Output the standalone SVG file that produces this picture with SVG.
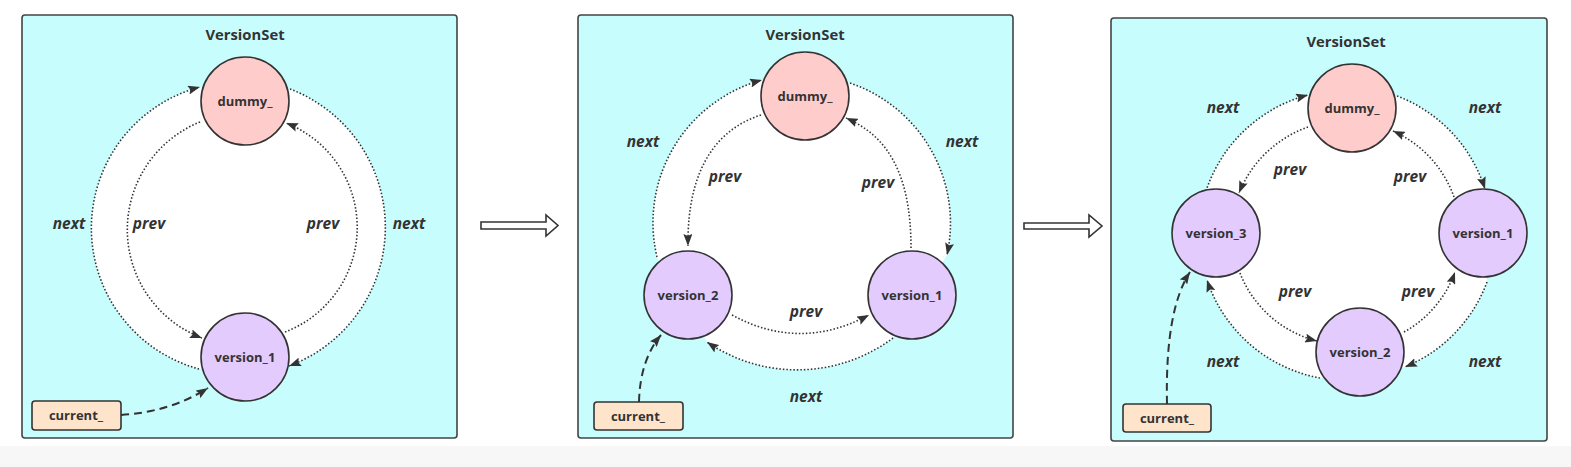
<svg xmlns="http://www.w3.org/2000/svg" width="1571" height="467" viewBox="0 0 1571 467">
<style>
.panel{fill:#c8fdfd;stroke:#444;stroke-width:1.6}
.hole{fill:#ffffff;stroke:none}
.dummy{fill:#ffcccc;stroke:#333;stroke-width:1.6}
.ver{fill:#e3cbfd;stroke:#333;stroke-width:1.6}
.cur{fill:#ffe4cc;stroke:#333;stroke-width:1.6}
.ntext{font-family:"Open Sans","Liberation Sans",sans-serif;font-weight:bold;font-size:13px;fill:#333;text-anchor:middle}
.title{font-family:"Open Sans","Liberation Sans",sans-serif;font-weight:bold;font-size:14.8px;fill:#333;text-anchor:middle}
.lbl{font-family:"Open Sans","Liberation Sans",sans-serif;font-weight:bold;font-style:italic;font-size:15.5px;fill:#333;text-anchor:middle}
.dot{fill:none;stroke:#333;stroke-width:1.6;stroke-dasharray:1.5 2;marker-end:url(#ah)}
.dash{fill:none;stroke:#333;stroke-width:2;stroke-dasharray:8 5;marker-end:url(#ah)}
.big{fill:#fff;stroke:#333;stroke-width:1.6}
</style>
<defs>
<marker id="ah" markerUnits="userSpaceOnUse" markerWidth="12" markerHeight="9" refX="12" refY="4.5" orient="auto">
<path d="M0,0 L12,4.5 L0,9 L2,4.5 Z" fill="#333"/>
</marker>
</defs>
<rect x="0" y="0" width="1571" height="467" fill="#ffffff"/>
<rect x="0" y="446" width="1571" height="21" fill="#f7f7f7"/>

<!-- Panel 1 -->
<g id="panel1">
<rect class="panel" x="22" y="15" width="435" height="423" rx="3"/>
<path class="hole" d="M199,369 A146,146 0 0 1 200,87 L290,89 A148,148 0 0 1 289,366 Z"/>
<text class="title" x="245" y="40">VersionSet</text>
</g>
<g id="p1-connectors">
<path class="dot" d="M199,369 A146,146 0 0 1 200,87"/>
<path class="dot" d="M290,89 A148,148 0 0 1 289,366"/>
<path class="dot" d="M200,122 A116,116 0 0 0 202,338"/>
<path class="dot" d="M285,332 A112,112 0 0 0 286,123"/>
<path class="dash" d="M121,415 Q170,412 208,388"/>
<text class="lbl" x="69" y="229">next</text>
<text class="lbl" x="149" y="229">prev</text>
<text class="lbl" x="323" y="229">prev</text>
<text class="lbl" x="409" y="229">next</text>
</g>
<g id="p1-dummy"><circle class="dummy" cx="245" cy="101" r="44"/><text class="ntext" x="245" y="106">dummy_</text></g>
<g id="p1-version1"><circle class="ver" cx="245" cy="357" r="44"/><text class="ntext" x="245" y="362">version_1</text></g>
<g id="p1-current"><rect class="cur" x="32" y="401" width="89" height="29" rx="3"/><text class="ntext" x="76" y="420">current_</text></g>

<!-- Big arrows -->
<g id="arrow1"><polygon class="big" points="481,222 546,222 546,215 558,225.5 546,236 546,229 481,229"/></g>
<g id="arrow2"><polygon class="big" points="1024,223 1089,223 1089,215 1102,226 1089,237 1089,229 1024,229"/></g>

<!-- Panel 2 -->
<g id="panel2">
<rect class="panel" x="578" y="15" width="435" height="423" rx="3"/>
<path class="hole" d="M657,257 A148,148 0 0 1 762,80 L850,83 A148,148 0 0 1 947,255 L893,338 A160,160 0 0 1 707,342 Z"/>
<text class="title" x="805" y="40">VersionSet</text>
</g>
<g id="p2-connectors">
<path class="dot" d="M657,257 A148,148 0 0 1 762,80"/>
<path class="dot" d="M850,83 A148,148 0 0 1 947,255"/>
<path class="dot" d="M893,338 A160,160 0 0 1 707,342"/>
<path class="dot" d="M761,115 C720,128 687,165 688,246"/>
<path class="dot" d="M911,248 C911,170 885,135 846,118"/>
<path class="dot" d="M732,315 Q800,352 869,315"/>
<path class="dash" d="M639,402 Q640,360 661,335"/>
<text class="lbl" x="643" y="147">next</text>
<text class="lbl" x="725" y="182">prev</text>
<text class="lbl" x="962" y="147">next</text>
<text class="lbl" x="878" y="188">prev</text>
<text class="lbl" x="806" y="317">prev</text>
<text class="lbl" x="806" y="402">next</text>
</g>
<g id="p2-dummy"><circle class="dummy" cx="805" cy="96" r="44"/><text class="ntext" x="805" y="101">dummy_</text></g>
<g id="p2-version2"><circle class="ver" cx="688" cy="295" r="44"/><text class="ntext" x="688" y="300">version_2</text></g>
<g id="p2-version1"><circle class="ver" cx="912" cy="295" r="44"/><text class="ntext" x="912" y="300">version_1</text></g>
<g id="p2-current"><rect class="cur" x="594" y="402" width="89" height="28" rx="3"/><text class="ntext" x="638" y="421">current_</text></g>

<!-- Panel 3 -->
<g id="panel3">
<rect class="panel" x="1111" y="18" width="436" height="423" rx="3"/>
<path class="hole" d="M1206,191 A147,147 0 0 1 1308,95 L1397,96 A147,147 0 0 1 1485,189 L1487,282 A147,147 0 0 1 1405,367 L1320,378 A147,147 0 0 1 1207,280 Z"/>
<text class="title" x="1346" y="47">VersionSet</text>
</g>
<g id="p3-connectors">
<path class="dot" d="M1206,191 A147,147 0 0 1 1308,95"/>
<path class="dot" d="M1397,96 A147,147 0 0 1 1485,189"/>
<path class="dot" d="M1487,282 A147,147 0 0 1 1405,367"/>
<path class="dot" d="M1320,378 A147,147 0 0 1 1207,280"/>
<path class="dot" d="M1308,127 A116,116 0 0 0 1239,193"/>
<path class="dot" d="M1454,197 A114,114 0 0 0 1393,131"/>
<path class="dot" d="M1240,273 A112,112 0 0 0 1317,341"/>
<path class="dot" d="M1404,332 A112,112 0 0 0 1455,272"/>
<path class="dash" d="M1167,404 Q1165,310 1190,272"/>
<text class="lbl" x="1223" y="113">next</text>
<text class="lbl" x="1290" y="175">prev</text>
<text class="lbl" x="1485" y="113">next</text>
<text class="lbl" x="1410" y="182">prev</text>
<text class="lbl" x="1295" y="297">prev</text>
<text class="lbl" x="1418" y="297">prev</text>
<text class="lbl" x="1485" y="367">next</text>
<text class="lbl" x="1223" y="367">next</text>
</g>
<g id="p3-dummy"><circle class="dummy" cx="1352" cy="108" r="44"/><text class="ntext" x="1352" y="113">dummy_</text></g>
<g id="p3-version3"><circle class="ver" cx="1216" cy="233" r="44"/><text class="ntext" x="1216" y="238">version_3</text></g>
<g id="p3-version1"><circle class="ver" cx="1483" cy="233" r="44"/><text class="ntext" x="1483" y="238">version_1</text></g>
<g id="p3-version2"><circle class="ver" cx="1360" cy="352" r="44"/><text class="ntext" x="1360" y="357">version_2</text></g>
<g id="p3-current"><rect class="cur" x="1123" y="404" width="88" height="28" rx="3"/><text class="ntext" x="1167" y="423">current_</text></g>
</svg>
